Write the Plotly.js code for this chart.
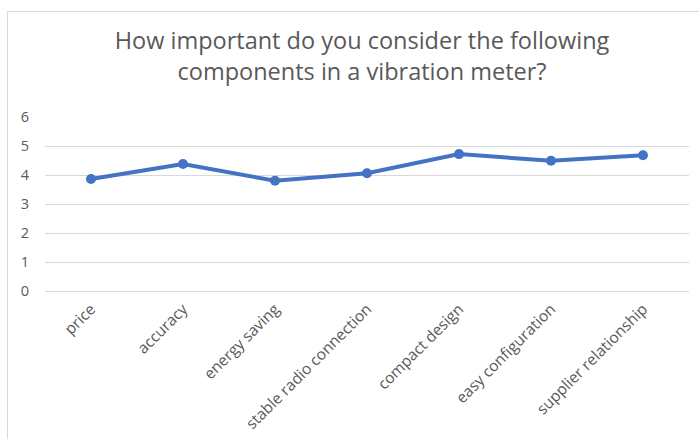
<!DOCTYPE html>
<html>
<head>
<meta charset="utf-8">
<script src="https://cdn.plot.ly/plotly-3.0.1.min.js"></script>
<style>
html,body{margin:0;padding:0;background:#fff;}
#wrap{position:relative;width:699px;height:439px;overflow:hidden;}
#chart{width:699px;height:439px;}
#frame{position:absolute;left:7px;top:11px;width:800px;height:600px;border:1px solid #d9d9d9;pointer-events:none;}
</style>
</head>
<body>
<div id="wrap"><div id="chart"></div><div id="frame"></div></div>
<script>
const categories = ["price","accuracy","energy saving","stable radio connection","compact design","easy configuration","supplier relationship"];
const values = [3.86, 4.38, 3.80, 4.06, 4.72, 4.49, 4.68];
const yTicks = [0,1,2,3,4,5,6];

const trace = {
  x: categories, y: values, type: 'scatter', mode: 'lines+markers',
  line: {color: '#4472C4', width: 4},
  marker: {color: '#4472C4', size: 10, symbol: 'circle'},
  hoverinfo: 'skip'
};
const layout = {
  width: 699, height: 439,
  margin: {l: 45, r: 10, t: 117, b: 148},
  paper_bgcolor: '#fff', plot_bgcolor: '#fff',
  showlegend: false,
  font: {family: '"Open Sans", sans-serif', color: '#595959'},
  title: {
    text: 'How important do you consider the following<br>components in a vibration meter?',
    font: {family: '"Open Sans", sans-serif', size: 23.5, color: '#595959'},
    xref: 'container', x: 362/699, xanchor: 'center',
    yref: 'container', y: 1 - 49/439, yanchor: 'top'
  },
  xaxis: {
    type: 'category', tickangle: -45, showgrid: false, showline: false, zeroline: false,
    ticks: '', ticklabelstandoff: 5,
    tickfont: {size: 15.5, color: '#595959'},
    range: [-0.5, 6.5]
  },
  yaxis: {
    range: [0, 6], tickvals: yTicks, ticktext: yTicks.map(String),
    showgrid: true, gridcolor: '#d9d9d9', gridwidth: 1,
    zeroline: true, zerolinecolor: '#d9d9d9', zerolinewidth: 1,
    showline: false, ticks: '', ticklabelstandoff: 15,
    tickfont: {size: 14.5, color: '#595959'}
  }
};
Plotly.newPlot('chart', [trace], layout, {displayModeBar: false, staticPlot: true});
</script>
</body>
</html>
